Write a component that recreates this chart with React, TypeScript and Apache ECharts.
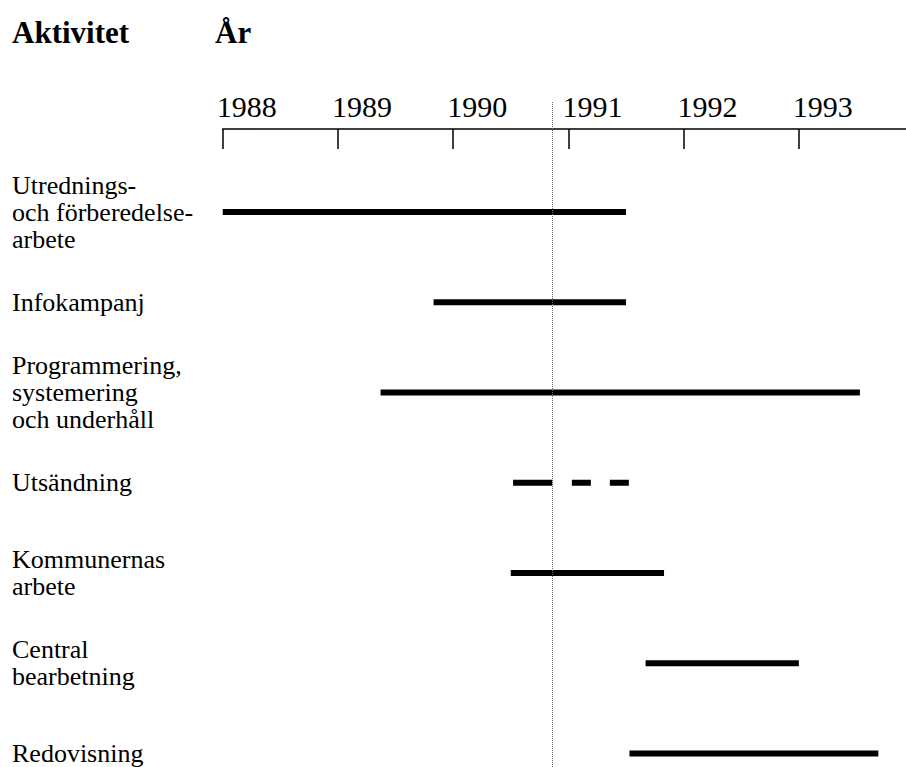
import React, { useEffect, useRef } from "react";
import * as echarts from "echarts";

const activities = [
  "Utrednings-\noch förberedelse-\narbete",
  "Infokampanj",
  "Programmering,\nsystemering\noch underhåll",
  "Utsändning",
  "Kommunernas\narbete",
  "Central\nbearbetning",
  "Redovisning",
];

// segments: activity index, start year, end year, planned (dashed)
const segActivity = [0, 1, 2, 3, 3, 4, 5, 6];
const segStart = [1988.0, 1989.83, 1989.37, 1990.52, 1991.03, 1990.5, 1991.67, 1991.53];
const segEnd = [1991.5, 1991.5, 1993.53, 1990.86, 1991.53, 1991.83, 1993.0, 1993.69];
const segPlanned = [0, 0, 0, 0, 1, 0, 0, 0];

const yearTicks = [1988, 1989, 1990, 1991, 1992, 1993];
const yearMin = 1988;
const yearMax = 1993.93;
const todayLine = 1990.86;

const FONT = "'Liberation Serif', 'Times New Roman', serif";

export default function App() {
  const ref = useRef<HTMLDivElement>(null);
  useEffect(() => {
    if (!ref.current) return;
    const chart = echarts.init(ref.current, undefined, { renderer: "svg" });
    const segData = segActivity.map((a, i) => [a, segStart[i], segEnd[i], segPlanned[i]]);
    const gridLeft = 222.7;
    chart.setOption({
      animation: false,
      backgroundColor: "#fff",
      title: [
        {
          text: "Aktivitet",
          left: 12,
          top: 17,
          padding: 0,
          textStyle: { fontFamily: FONT, fontSize: 31, fontWeight: "bold", color: "#000" },
        },
        {
          text: "År",
          left: 215,
          top: 17,
          padding: 0,
          textStyle: { fontFamily: FONT, fontSize: 31, fontWeight: "bold", color: "#000" },
        },
      ],
      grid: [
        { left: gridLeft, top: 101, right: 0, bottom: 0 },
        { left: gridLeft, top: 212, right: 0, height: 544 },
      ],
      xAxis: [
        {
          type: "value",
          gridIndex: 0,
          position: "top",
          offset: -28,
          min: yearMin,
          max: yearMax,
          interval: 1,
          splitLine: { show: false },
          axisLine: { show: true, onZero: false, lineStyle: { color: "#000", width: 1.5 } },
          axisTick: {
            show: true,
            inside: true,
            length: 20,
            customValues: yearTicks,
            lineStyle: { color: "#000", width: 1.5 },
          },
          axisLabel: {
            show: true,
            customValues: yearTicks,
            align: "left",
            margin: 8,
            padding: [0, 0, 0, -6],
            fontFamily: FONT,
            fontSize: 30,
            color: "#000",
            formatter: (v: number) => String(v),
          },
        },
        {
          type: "value",
          gridIndex: 1,
          min: yearMin,
          max: yearMax,
          show: false,
        },
      ],
      yAxis: [
        { type: "value", gridIndex: 0, show: false, min: 0, max: 1 },
        {
          type: "category",
          gridIndex: 1,
          data: activities,
          inverse: true,
          boundaryGap: false,
          axisLine: { show: false },
          axisTick: { show: false },
          splitLine: { show: false },
          axisLabel: {
            align: "left",
            margin: gridLeft - 12,
            fontFamily: FONT,
            fontSize: 26,
            lineHeight: 27,
            color: "#000",
          },
        },
      ],
      series: [
        {
          type: "line",
          xAxisIndex: 0,
          yAxisIndex: 0,
          data: [],
          silent: true,
          markLine: {
            silent: true,
            symbol: "none",
            label: { show: false },
            lineStyle: { color: "#666", width: 1, type: [1, 1] },
            data: [{ xAxis: todayLine }],
          },
        },
        {
          type: "custom",
          xAxisIndex: 1,
          yAxisIndex: 1,
          encode: { x: [1, 2], y: 0 },
          data: segData,
          renderItem: (params: any, api: any) => {
            const cat = api.value(0);
            const s = api.value(1);
            const e = api.value(2);
            const planned = api.value(3);
            const p1 = api.coord([s, cat]);
            const p2 = api.coord([e, cat]);
            if (planned) {
              return {
                type: "line",
                shape: { x1: p1[0], y1: p1[1], x2: p2[0], y2: p2[1] },
                style: { stroke: "#000", lineWidth: 6, lineDash: [19, 19] },
              };
            }
            return {
              type: "rect",
              shape: { x: p1[0], y: p1[1] - 3, width: p2[0] - p1[0], height: 6 },
              style: { fill: "#000" },
            };
          },
        },
      ],
    });
    return () => chart.dispose();
  }, []);
  return (
    <div
      ref={ref}
      style={{ position: "absolute", left: 0, top: 0, width: 906, height: 767, background: "#fff" }}
    />
  );
}
